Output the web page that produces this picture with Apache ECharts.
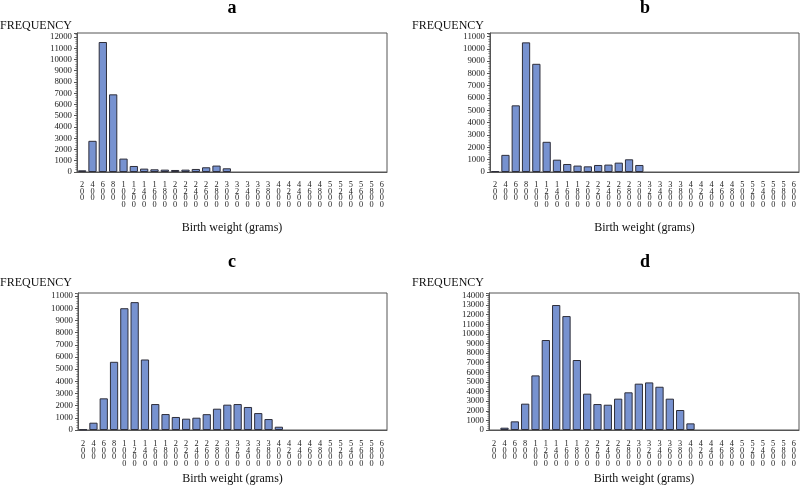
<!DOCTYPE html>
<html>
<head>
<meta charset="utf-8">
<script src="https://cdn.jsdelivr.net/npm/echarts@6/dist/echarts.min.js"></script>
<style>
html,body{margin:0;padding:0;background:#fff;}
#chart{width:800px;height:494px;}
</style>
</head>
<body>
<div id="chart"></div>
<script>
// Birth weight categories (grams)
var categories = ['200','400','600','800','1000','1200','1400','1600','1800','2000',
  '2200','2400','2600','2800','3000','3200','3400','3600','3800','4000',
  '4200','4400','4600','4800','5000','5200','5400','5600','5800','6000'];

// Frequencies per panel
var freqA = [150,2770,11550,6900,1190,535,300,240,210,180,210,270,420,570,330,
  0,0,0,0,0,0,0,0,0,0,0,0,0,0,0];
var freqB = [80,1390,5410,10520,8780,2450,1000,650,520,460,570,600,760,1030,570,
  0,0,0,0,0,0,0,0,0,0,0,0,0,0,0];
var freqC = [50,600,2600,5600,10000,10500,5790,2130,1310,1070,930,1010,1300,1750,2080,
  2130,1890,1390,900,270,0,0,0,0,0,0,0,0,0,0];
var freqD = [0,240,900,2740,5680,9360,13000,11850,7280,3780,2700,2630,3260,3920,4820,
  4950,4500,3260,2080,690,0,0,0,0,0,0,0,0,0,0];

var panelLetters = ['a','b','c','d'];
var yTop = [12350, 11280, 11250, 14250];
var xAxisName = 'Birth weight (grams)';
var yAxisName = 'FREQUENCY';

var FONT = '"Liberation Serif", "Times New Roman", serif';
var grids = [
  {left:77, top:33, width:310, height:139},
  {left:490, top:33, width:309, height:139},
  {left:78, top:293, width:309, height:137},
  {left:489, top:293, width:310, height:137}
];
var labelMargin = [9.5, 9.5, 10.5, 10.5];
var nameGaps = [50, 50, 43, 43];
var allData = [freqA, freqB, freqC, freqD];

var option = {
  animation:false,
  backgroundColor:'#ffffff',
  grid: grids.map(function(g){
    return {left:g.left, top:g.top, width:g.width, height:g.height,
      show:true, borderColor:'#555', borderWidth:1, backgroundColor:'transparent'};
  }),
  xAxis: grids.map(function(g,i){
    return {
      type:'category', gridIndex:i, data:categories,
      axisLine:{lineStyle:{color:'#555', width:1}},
      axisTick:{show:false},
      axisLabel:{interval:0, margin:labelMargin[i], fontFamily:FONT, fontSize:8.3, lineHeight:6.7,
        color:'#222', formatter:function(v){return v.split('').join('\n');}},
      name:xAxisName, nameLocation:'middle', nameGap:nameGaps[i],
      nameTextStyle:{fontFamily:FONT, fontSize:12, color:'#111'},
      splitLine:{show:false}
    };
  }),
  yAxis: grids.map(function(g,i){
    return {
      type:'value', gridIndex:i, min:0, max:yTop[i], interval:1000,
      axisLine:{show:true, lineStyle:{color:'#555', width:1}},
      axisTick:{show:true, length:3, lineStyle:{color:'#555'}},
      minorTick:{show:true, splitNumber:5, length:1.5, lineStyle:{color:'#777'}},
      axisLabel:{margin:5, fontFamily:FONT, fontSize:8.8, color:'#222',
        showMaxLabel:true,
        formatter:function(v){return (v % 1000 === 0) ? String(v) : '';}},
      splitLine:{show:false}
    };
  }),
  series: allData.map(function(d,i){
    return {
      type:'bar', xAxisIndex:i, yAxisIndex:i,
      data:d.map(function(v){return v === 0 ? '-' : v;}),
      barCategoryGap:'20%',
      itemStyle:{color:'#7792d0', borderColor:'#2e2e3a', borderWidth:1}
    };
  }),
  graphic: [
    {type:'text', x:232, y:8, style:{text:panelLetters[0], font:'bold 18px '+FONT, fill:'#000', textAlign:'center', textVerticalAlign:'middle'}},
    {type:'text', x:645, y:8, style:{text:panelLetters[1], font:'bold 18px '+FONT, fill:'#000', textAlign:'center', textVerticalAlign:'middle'}},
    {type:'text', x:232, y:262, style:{text:panelLetters[2], font:'bold 18px '+FONT, fill:'#000', textAlign:'center', textVerticalAlign:'middle'}},
    {type:'text', x:645, y:262, style:{text:panelLetters[3], font:'bold 18px '+FONT, fill:'#000', textAlign:'center', textVerticalAlign:'middle'}},
    {type:'text', x:0, y:25.5, style:{text:yAxisName, font:'12px '+FONT, fill:'#111', textAlign:'left', textVerticalAlign:'middle'}},
    {type:'text', x:412, y:25.5, style:{text:yAxisName, font:'12px '+FONT, fill:'#111', textAlign:'left', textVerticalAlign:'middle'}},
    {type:'text', x:0, y:283, style:{text:yAxisName, font:'12px '+FONT, fill:'#111', textAlign:'left', textVerticalAlign:'middle'}},
    {type:'text', x:412, y:283, style:{text:yAxisName, font:'12px '+FONT, fill:'#111', textAlign:'left', textVerticalAlign:'middle'}}
  ]
};

var chart = echarts.init(document.getElementById('chart'), null, {renderer:'canvas'});
chart.setOption(option);
</script>
</body>
</html>
